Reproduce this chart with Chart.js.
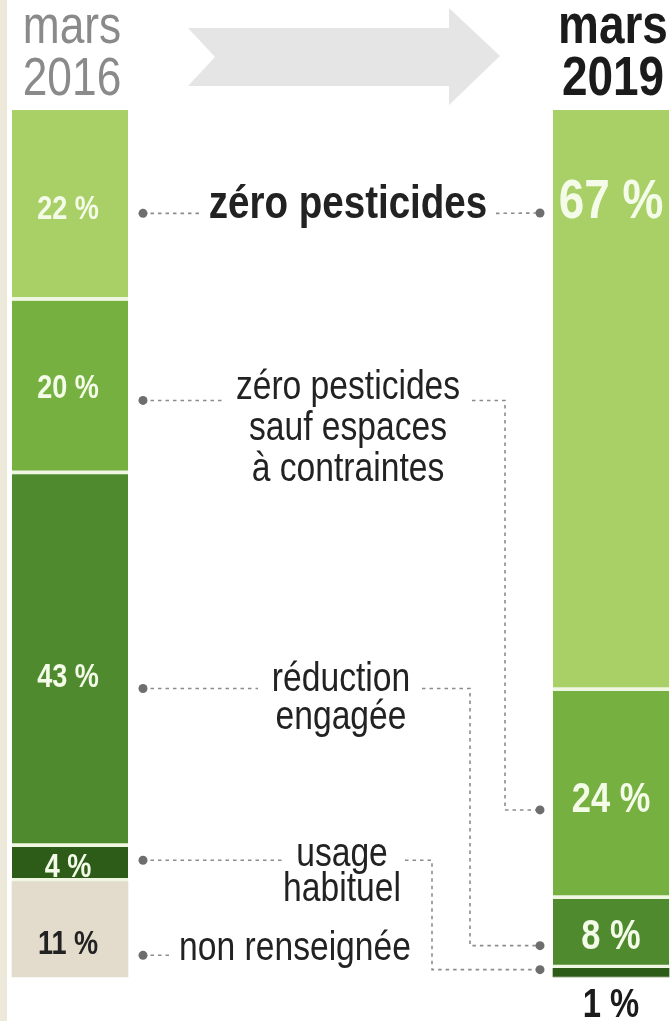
<!DOCTYPE html>
<html lang="fr">
<head>
<meta charset="utf-8">
<title>Pesticides — mars 2016 / mars 2019</title>
<script src="https://cdn.jsdelivr.net/npm/chart.js@4/dist/chart.umd.min.js"></script>
<style>
  html, body { margin: 0; padding: 0; background: #ffffff; }
  #cadre { position: relative; width: 670px; height: 1021px; }
</style>
</head>
<body>
<div id="cadre"><canvas id="graphique" width="670" height="1021"></canvas></div>
<script>
// Données (du bas vers le haut de chaque barre)
const periodes = ['2016', '2019'];
const titresPeriodes = [['mars', '2016'], ['mars', '2019']];
const categories = [
  'non renseignée',
  'usage habituel',
  'réduction engagée',
  'zéro pesticides sauf espaces à contraintes',
  'zéro pesticides',
];
const valeurs2016 = [11, 4, 43, 20, 22];
const valeurs2019 = [0, 1, 8, 24, 67];

// Libellés du milieu (une ligne par entrée)
const libellesMilieu = [
  ['non renseignée'],
  ['usage', 'habituel'],
  ['réduction', 'engagée'],
  ['zéro pesticides', 'sauf espaces', 'à contraintes'],
  ['zéro pesticides'],
];

const couleurs = ['#e3dccd', '#2d5c19', '#4f8a2f', '#76b041', '#a9d066'];
const couleurTexte = ['#222222', '#f4fbe8', '#f4fbe8', '#f4fbe8', '#f4fbe8'];
const POLICE = "'Liberation Sans', Arial, sans-serif";
const ETROIT = 0.82; // police condensée simulée

// Décalages verticaux (px) des étiquettes et des points, par catégorie
const decalEtiquetteG = [16, 4, 17, 1, 5];
const decalPointG = [26, -4, 28, 13, 8];
const decalEtiquetteD = [0, 0, 4, 5, 0];
const decalPointD = [0, -3, 12, 15, 0];

function valeurs(i) { return [valeurs2016[i], valeurs2019[i]]; }

function texte(c, str, x, y, taille, gras, couleur) {
  c.save();
  c.translate(x, y);
  c.scale(ETROIT, 1);
  c.fillStyle = couleur;
  c.font = (gras ? 'bold ' : '') + taille + 'px ' + POLICE;
  c.fillText(str, 0, 0);
  c.restore();
}

// Bordure claire entre deux segments, seulement s'il y a quelque chose dessous
function bordureBas(ctx) {
  const serie = ctx.dataIndex === 0 ? valeurs2016 : valeurs2019;
  const dessous = serie.slice(0, ctx.datasetIndex).reduce((a, v) => a + v, 0);
  return { top: 0, left: 0, right: 0, bottom: dessous > 0 ? 4 : 0 };
}

const decor = {
  id: 'decor',
  beforeDraw(chart) {
    const c = chart.ctx;
    c.save();
    c.fillStyle = '#ffffff';
    c.fillRect(0, 0, chart.width, chart.height);
    c.fillStyle = '#ede9da';
    c.fillRect(0, 0, 7, chart.height);

    // flèche grise
    c.fillStyle = '#e5e5e5';
    c.beginPath();
    c.moveTo(188, 28); c.lineTo(449, 28); c.lineTo(449, 8); c.lineTo(500, 56);
    c.lineTo(449, 105); c.lineTo(449, 86); c.lineTo(188, 86); c.lineTo(215, 57);
    c.closePath();
    c.fill();

    // titres
    const xs = chart.scales.x;
    c.textAlign = 'center';
    c.textBaseline = 'alphabetic';
    titresPeriodes.forEach((lignes, i) => {
      const x = xs.getPixelForValue(i) + 2;
      const coul = i === 0 ? '#8a8a8a' : '#1b1b1b';
      const taille = i === 0 ? 54 : 56;
      texte(c, lignes[0], x, 43, taille, i === 1, coul);
      texte(c, lignes[1], x, 95, taille, i === 1, coul);
    });
    c.restore();
  },
  afterDatasetsDraw(chart) {
    const c = chart.ctx;
    c.save();
    c.textAlign = 'center';
    c.textBaseline = 'middle';

    const segs = categories.map((_, i) => chart.getDatasetMeta(i).data);
    const gauche = segs.map((d) => d[0]);
    const droite = segs.map((d) => d[1]);

    // pourcentages dans les barres
    gauche.forEach((el, i) => {
      const y = (el.y + el.base) / 2 + decalEtiquetteG[i];
      texte(c, valeurs2016[i] + ' %', el.x - 2, y, 33, true, couleurTexte[i]);
    });
    droite.forEach((el, i) => {
      const v = valeurs2019[i];
      if (!v) return;
      let y = (el.y + el.base) / 2 + decalEtiquetteD[i];
      let taille = 42;
      let coul = couleurTexte[i];
      if (i === 4) { y = el.y + 93; taille = 56; }
      if (i === 1) { y = el.base + 29; taille = 40; coul = '#1b1b1b'; }
      texte(c, v + ' %', el.x, y, taille, true, coul);
    });

    // points et pointillés
    const xG = gauche[0].x + gauche[0].width / 2 + 15;
    const xD = droite[0].x - droite[0].width / 2 - 13;
    const yG = gauche.map((el, i) => (el.y + el.base) / 2 + decalPointG[i]);
    const yD = droite.map((el, i) => (i === 4 ? el.y + 103 : (el.y + el.base) / 2 + decalPointD[i]));

    // position des libellés : [x centre, y première ligne, interligne, gras, taille, fin trait gauche, début trait droit, x vertical]
    const place = [
      [295, 949, 0, false, 41, 170, null, null],
      [342, 855, 35, false, 41, 283, 405, 432],
      [341, 680, 38, false, 41, 258, 422, 470],
      [348, 388, 41, false, 41, 225, 472, 505],
      [348, 205, 0, true, 47, 200, 496, null],
    ];

    c.strokeStyle = '#8c8c8c';
    c.lineWidth = 1.6;
    c.setLineDash([3.5, 4]);
    place.forEach((p, i) => {
      c.beginPath();
      c.moveTo(xG, yG[i]); c.lineTo(p[5], yG[i]);
      if (valeurs2019[i] > 0) {
        c.moveTo(p[6], yG[i]);
        if (p[7] !== null) {
          c.lineTo(p[7], yG[i]); c.lineTo(p[7], yD[i]);
        }
        c.lineTo(xD, yD[i]);
      }
      c.stroke();
    });
    c.setLineDash([]);
    c.fillStyle = '#6e6e6e';
    categories.forEach((_, i) => {
      c.beginPath(); c.arc(xG, yG[i], 4.5, 0, Math.PI * 2); c.fill();
      if (valeurs2019[i] > 0) { c.beginPath(); c.arc(xD, yD[i], 4.5, 0, Math.PI * 2); c.fill(); }
    });

    // libellés du milieu
    place.forEach((p, i) => {
      libellesMilieu[i].forEach((ligne, k) => texte(c, ligne, p[0], p[1] + k * p[2], p[4], p[3], '#222222'));
    });
    c.restore();
  },
};

new Chart(document.getElementById('graphique'), {
  type: 'bar',
  data: {
    labels: periodes,
    datasets: categories.map((nom, i) => ({
      label: nom,
      data: valeurs(i),
      backgroundColor: couleurs[i],
      borderColor: '#eff7e3',
      borderWidth: bordureBas,
      borderSkipped: false,
      barThickness: 116,
      clip: false,
    })),
  },
  options: {
    responsive: false,
    animation: false,
    layout: { padding: { left: 70, right: 59, top: 110, bottom: 44 } },
    plugins: { legend: { display: false }, tooltip: { enabled: false } },
    scales: {
      x: { display: false, stacked: true, offset: false },
      y: { display: false, stacked: true, min: 0, max: 100 },
    },
  },
  plugins: [decor],
});
</script>
</body>
</html>
